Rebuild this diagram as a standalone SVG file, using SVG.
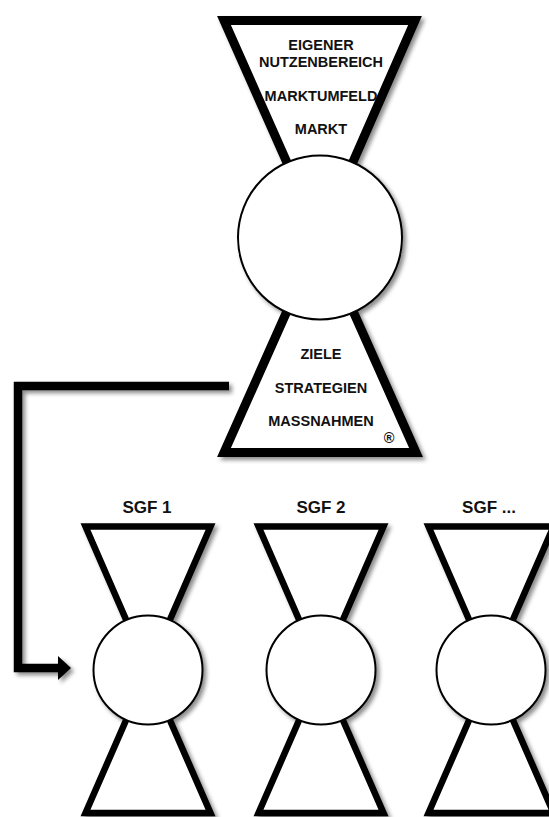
<svg xmlns="http://www.w3.org/2000/svg" width="549" height="817" viewBox="0 0 549 817">
  <defs>
    <filter id="shadow" x="-20%" y="-20%" width="150%" height="150%">
      <feDropShadow dx="3" dy="3" stdDeviation="2.2" flood-color="#000" flood-opacity="0.45"/>
    </filter>
    <marker id="arrowhead" markerUnits="userSpaceOnUse" markerWidth="14" markerHeight="26" refX="2" refY="12" orient="auto">
      <polygon points="0,0 13,12 0,24" fill="#000"/>
    </marker>
  </defs>
  <style>
    .funnel-big { fill: #fff; stroke: #000; stroke-width: 9; stroke-linejoin: miter; stroke-miterlimit: 10; }
    .funnel { fill: #fff; stroke: #000; stroke-width: 6.5; stroke-linejoin: miter; stroke-miterlimit: 10; }
    .core { fill: #fff; stroke: #000; stroke-width: 2; }
    .label { font-family: "Liberation Sans", Arial, sans-serif; font-weight: bold; font-size: 14.5px; fill: #111; text-anchor: middle; }
    .title { font-family: "Liberation Sans", Arial, sans-serif; font-weight: bold; font-size: 17px; fill: #111; text-anchor: middle; }
    .link { fill: none; stroke: #000; stroke-width: 8.5; stroke-linejoin: miter; }
  </style>

  <rect width="549" height="817" fill="#fff"/>

  <!-- main hourglass -->
  <g id="main" filter="url(#shadow)">
    <polygon class="funnel-big" points="224,20.5 415,20.5 320,237"/>
    <polygon class="funnel-big" points="224,452.5 416,452.5 320,237"/>
    <circle class="core" cx="320" cy="237.5" r="82"/>
  </g>
  <g id="main-labels">
    <text class="label" x="321" y="50">EIGENER</text>
    <text class="label" x="321" y="67">NUTZENBEREICH</text>
    <text class="label" x="321" y="101">MARKTUMFELD</text>
    <text class="label" x="321" y="134">MARKT</text>
    <text class="label" x="321" y="359">ZIELE</text>
    <text class="label" x="321" y="393">STRATEGIEN</text>
    <text class="label" x="321" y="426">MASSNAHMEN</text>
    <text class="label" x="389" y="443" font-size="12px">®</text>
  </g>

  <!-- connectors -->
  <g id="connectors" filter="url(#shadow)">
    <polyline class="link" points="229,386 18,386 18,668 60,668" marker-end="url(#arrowhead)"/>
  </g>

  <!-- SGF 1 -->
  <g id="sgf1">
    <text class="title" x="147" y="513">SGF 1</text>
    <g filter="url(#shadow)">
      <polygon class="funnel" points="85.5,526.5 210.5,526.5 148,670"/>
      <polygon class="funnel" points="85.5,813 210.5,813 148,670"/>
      <circle class="core" cx="148" cy="670" r="54.5"/>
    </g>
  </g>

  <!-- SGF 2 -->
  <g id="sgf2">
    <text class="title" x="321" y="513">SGF 2</text>
    <g filter="url(#shadow)">
      <polygon class="funnel" points="258.5,526.5 383.5,526.5 321,670"/>
      <polygon class="funnel" points="258.5,813 383.5,813 321,670"/>
      <circle class="core" cx="321" cy="670" r="54.5"/>
    </g>
  </g>

  <!-- SGF ... -->
  <g id="sgf3">
    <text class="title" x="489" y="513">SGF ...</text>
    <g filter="url(#shadow)">
      <polygon class="funnel" points="428.5,526.5 553.5,526.5 491,670"/>
      <polygon class="funnel" points="428.5,813 553.5,813 491,670"/>
      <circle class="core" cx="491" cy="670" r="54.5"/>
    </g>
  </g>
</svg>
